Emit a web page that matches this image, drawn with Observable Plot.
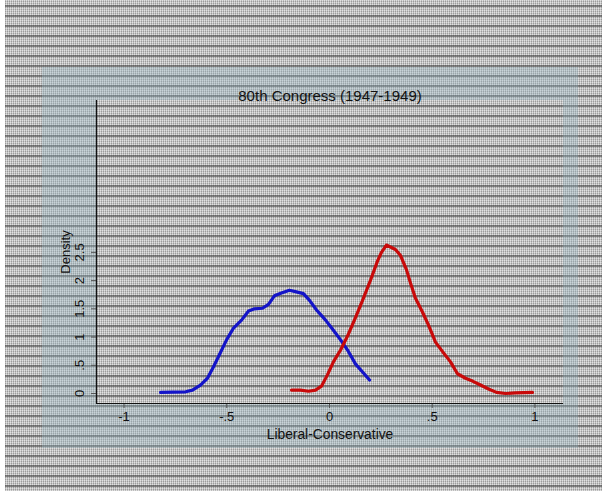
<!DOCTYPE html>
<html>
<head>
<meta charset="utf-8">
<script src="https://cdn.jsdelivr.net/npm/d3@7"></script>
<script src="https://cdn.jsdelivr.net/npm/@observablehq/plot@0.6"></script>
<style>
  html, body { margin: 0; padding: 0; background: #fff; }
  #wrap { position: relative; width: 602px; height: 491px; overflow: hidden; font-family: "Liberation Sans", Arial, sans-serif; }
  .pat {
    position: absolute;
    background-color: #bdbdbd;
    background-image:
      repeating-linear-gradient(to bottom, transparent 0px, transparent 5px, rgba(70,70,70,0.6) 5px, rgba(70,70,70,0.6) 7px, transparent 7px, transparent 10px),
      repeating-linear-gradient(to right, rgba(255,255,255,0.35) 0px, rgba(255,255,255,0.35) 1px, rgba(0,0,0,0.1) 1px, rgba(0,0,0,0.1) 2px),
      repeating-linear-gradient(to bottom, rgba(255,255,255,0.3) 0px, rgba(255,255,255,0.3) 1px, rgba(0,0,0,0.08) 1px, rgba(0,0,0,0.08) 2px);
    background-attachment: fixed;
  }
  #tint { position: absolute; left: 42px; top: 67px; width: 536px; height: 381px; background: rgba(150,185,195,0.32); }
  #chart { position: absolute; left: 0; top: 0; }
</style>
</head>
<body>
<div id="wrap">
  <div class="pat" style="left:5px;top:0;width:597px;height:491px;"></div>
  <div id="tint"></div>
  <div class="pat" style="left:96px;top:100px;width:467px;height:303px;"></div>
  <div id="chart"></div>
</div>
<script>
// Democrats (blue) density estimate
const demX = [-0.822, -0.70, -0.667, -0.628, -0.594, -0.565, -0.530, -0.501, -0.467, -0.428, -0.394, -0.365, -0.326, -0.297, -0.268, -0.234, -0.195, -0.161, -0.127, -0.097, -0.063, -0.019, 0.019, 0.054, 0.088, 0.127, 0.161, 0.195];
const demY = [0.02, 0.03, 0.06, 0.15, 0.27, 0.47, 0.73, 0.95, 1.16, 1.30, 1.46, 1.50, 1.51, 1.58, 1.73, 1.78, 1.83, 1.80, 1.77, 1.65, 1.48, 1.30, 1.12, 0.95, 0.77, 0.52, 0.38, 0.24];
// Republicans (red) density estimate
const repX = [-0.185, -0.141, -0.102, -0.068, -0.039, -0.010, 0.019, 0.054, 0.092, 0.127, 0.161, 0.200, 0.234, 0.253, 0.277, 0.321, 0.345, 0.375, 0.394, 0.418, 0.453, 0.482, 0.516, 0.555, 0.589, 0.623, 0.662, 0.696, 0.735, 0.774, 0.813, 0.857, 0.905, 0.988];
const repY = [0.06, 0.06, 0.04, 0.06, 0.13, 0.33, 0.56, 0.77, 1.05, 1.35, 1.65, 2.01, 2.35, 2.50, 2.63, 2.55, 2.45, 2.19, 1.96, 1.69, 1.44, 1.21, 0.91, 0.72, 0.56, 0.35, 0.27, 0.22, 0.15, 0.08, 0.02, 0.00, 0.01, 0.02];

const xTicks = [-1, -0.5, 0, 0.5, 1];
const yTicks = [0, 0.5, 1, 1.5, 2, 2.5];
const titleText = "80th Congress (1947-1949)";
const xLabel = "Liberal-Conservative";
const yLabel = "Density";

const dem = demX.map((x, i) => ({x, y: demY[i]}));
const rep = repX.map((x, i) => ({x, y: repY[i]}));
const fmt = d => String(d).replace(/^(-?)0\./, "$1.");

const xDom = [-1.134, 1.139];
const yDom = [-0.177, 5.19];
const ink = "#111";

const chart = Plot.plot({
  width: 602,
  height: 491,
  marginLeft: 96,
  marginRight: 39,
  marginTop: 100,
  marginBottom: 88,
  style: {background: "transparent", fontFamily: "'Liberation Sans', Arial, sans-serif", fontSize: "13px", color: ink},
  x: {domain: xDom},
  y: {domain: yDom},
  marks: [
    Plot.axisX(xTicks, {tickSize: 5, tickPadding: 3, tickFormat: fmt, stroke: "#555", fill: ink, fontSize: 13, label: null}),
    Plot.axisY(yTicks, {tickSize: 5, tickFormat: () => "", stroke: "#555", label: null}),
    Plot.text(yTicks, {x: xDom[0], y: d => d, text: fmt, rotate: -90, dx: -17, fill: ink, fontSize: 13, textAnchor: "middle"}),
    Plot.ruleY([yDom[0]], {stroke: "#111", strokeWidth: 1.2}),
    Plot.ruleX([xDom[0]], {stroke: "#111", strokeWidth: 1.2}),
    Plot.line(dem, {x: "x", y: "y", stroke: "#1414c8", strokeWidth: 3.2, curve: "linear"}),
    Plot.line(rep, {x: "x", y: "y", stroke: "#c80a0a", strokeWidth: 3.2, curve: "linear"}),
    Plot.text([titleText], {frameAnchor: "top", dy: -10, text: d => d, fontSize: 15, fill: ink}),
    Plot.text([xLabel], {frameAnchor: "bottom", dy: 35, text: d => d, fontSize: 13.8, fill: ink}),
    Plot.text([yLabel], {frameAnchor: "left", dx: -31, rotate: -90, textAnchor: "middle", text: d => d, fontSize: 13, fill: ink})
  ]
});
document.getElementById("chart").appendChild(chart);
</script>
</body>
</html>
